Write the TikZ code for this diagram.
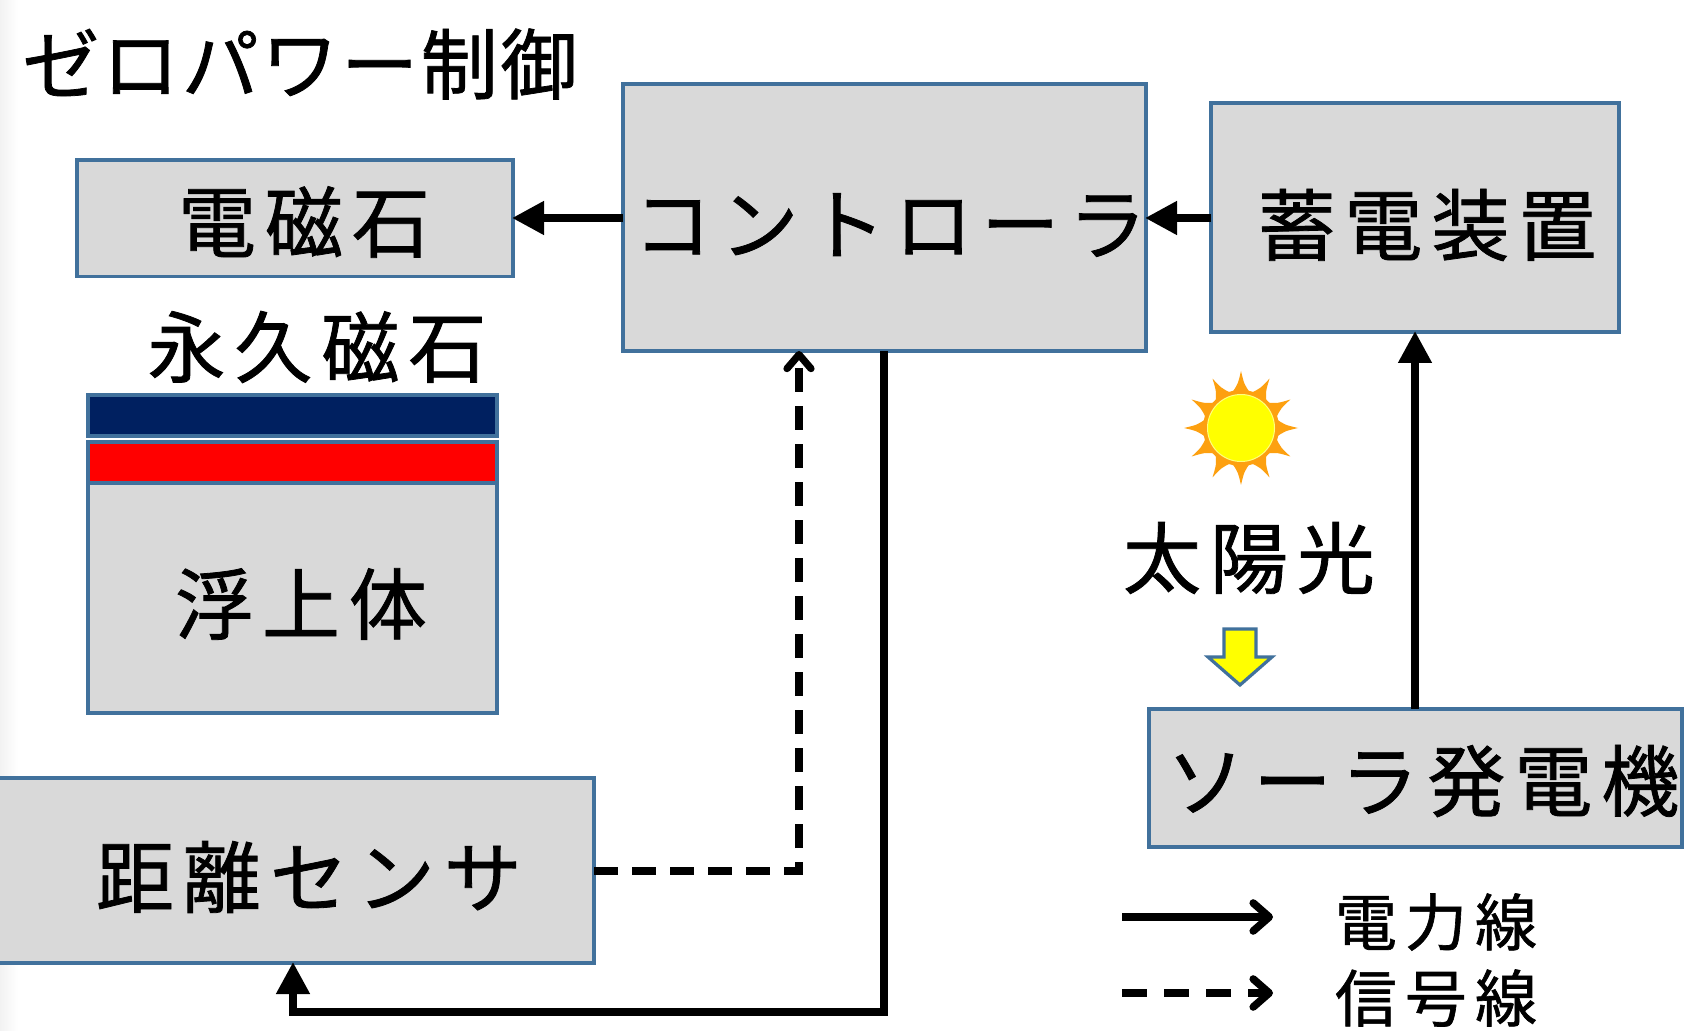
\documentclass[tikz,border=0pt]{standalone}
\usepackage{fontspec}
\setmainfont{Noto Sans CJK JP}
\usetikzlibrary{arrows.meta,calc}
\definecolor{bxline}{HTML}{41719C}
\definecolor{bxfill}{HTML}{D9D9D9}
\definecolor{navyc}{HTML}{002060}
\definecolor{sunor}{HTML}{FDA010}
\definecolor{yellowc}{HTML}{FFFF00}
\definecolor{redc}{HTML}{FF0000}
\newcommand{\jpt}[2]{\fontsize{#1}{#1}\selectfont\addfontfeature{LetterSpace=#2,FakeBold=1}}
\newcommand{\bx}[6]{\node[boxst,#6,minimum width={(#4-#2)*0.5pt},minimum height={(#5-#3)*0.5pt}] (#1) at ({(#2+#4)/2},{(#3+#5)/2}) {};}
\tikzset{
  x=0.5pt,y=-0.5pt,
  boxst/.style={draw=bxline,line width=1.6pt,fill=bxfill,inner sep=0pt,outer sep=0pt},
  biglabel/.style={inner sep=0pt,font=\jpt{39}{11.5}},
  titlelabel/.style={inner sep=0pt,font=\jpt{38.5}{3.5}},
  leglabel/.style={inner sep=0pt,font=\jpt{31}{13}},
  powerln/.style={line width=3.8pt,-{Triangle[length=16pt,width=16pt]},shorten >=-0.5pt},
  signalln/.style={line width=3.8pt,dash pattern=on 12pt off 7pt,-{Straight Barb[length=7pt,width=12pt,line width=3.6pt,round]}},
  legpower/.style={line width=3.8pt,-{Straight Barb[length=8pt,width=14pt,line width=3.8pt,round]}},
  legsignal/.style={line width=3.8pt,dash pattern=on 12.5pt off 8.5pt,-{Straight Barb[length=8pt,width=14pt,line width=3.8pt,round]}},
}
\begin{document}
\begin{tikzpicture}
\useasboundingbox (0,0) rectangle (1687,1031);
\clip (0,0) rectangle (1687,1031);
\fill[white] (0,0) rectangle (1687,1031);
\shade[left color=black!5,right color=white,draw=none] (0,0) rectangle (18,1031);

% boxes
\bx{mag}{77}{160}{513}{276.5}{}
\bx{ctrl}{623}{84}{1146}{351}{}
\bx{stor}{1211}{103}{1619}{332}{}
\bx{sens}{-8}{778}{594}{963}{}
\bx{solar}{1149}{709}{1682}{847}{}
\bx{body}{88}{483}{497}{713}{}
\bx{navy}{88}{395}{497}{436}{fill=navyc}
\bx{redm}{88}{442}{497}{483}{fill=redc}

% labels
\node[titlelabel] (ttl) at (300,64) {ゼロパワー制御};
\node[biglabel] (tmag) at (304,222) {電磁石};
\node[biglabel] (tctrl) at (890,225) {コントローラ};
\node[biglabel] (tstor) at (1427,225) {蓄電装置};
\node[biglabel] (tperm) at (317,347) {永久磁石};
\node[biglabel] (tbody) at (301,604) {浮上体};
\node[biglabel] (tsens) at (309,877) {距離センサ};
\node[biglabel] (tsolar) at (1423,781) {ソーラ発電機};
\node[biglabel] (tsunl) at (1249,558) {太陽光};
\node[leglabel] (tleg1) at (1436,922) {電力線};
\node[leglabel] (tleg2) at (1436,998) {信号線};

% sun
\coordinate (sunc) at (1241,428);
\foreach \a in {0,30,...,330}{
  \fill[sunor] ($(sunc)+(\a-15:36)$) .. controls ($(sunc)+(\a-4:44)$) .. ($(sunc)+(\a:57)$)
     .. controls ($(sunc)+(\a+4:44)$) .. ($(sunc)+(\a+15:36)$) -- cycle;
}
\fill[sunor] (sunc) circle[radius=38];
\draw[draw=yellowc!50!white,fill=yellowc,line width=0.5pt] (sunc) circle[radius=33.5];

% yellow arrow
\draw[draw=bxline,fill=yellowc,line width=1.6pt,line join=miter]
  (1224,629) -- (1256,629) -- (1256,657) -- (1272,657) -- (1240,685) -- (1208,657) -- (1224,657) -- cycle;

% connectors
\coordinate (lvtop) at (0,218);
\coordinate (lvbot) at (0,1012);
\coordinate (lvsig) at (0,871);
\coordinate (xpow) at (884,0);
\coordinate (xsol) at (1415,0);
\coordinate (xsig) at (799,0);
\coordinate (xsen) at (293,0);
\draw[powerln] (ctrl.west |- lvtop) -- (mag.east |- lvtop);
\draw[powerln] (stor.west |- lvtop) -- (ctrl.east |- lvtop);
\draw[powerln] (xsol |- solar.north) -- (xsol |- stor.south);
\draw[powerln] (xpow |- ctrl.south) -- (xpow |- lvbot) -- (xsen |- lvbot) -- (xsen |- sens.south);
\draw[signalln] (sens.east |- lvsig) -- (xsig |- lvsig) -- (xsig |- ctrl.south);

% legend
\coordinate (la1) at (1122,917);
\coordinate (lb1) at (1273,917);
\coordinate (la2) at (1122,993);
\coordinate (lb2) at (1273,993);
\draw[legpower] (la1) -- (lb1);
\draw[legsignal] (la2) -- (lb2);
\end{tikzpicture}
\end{document}
